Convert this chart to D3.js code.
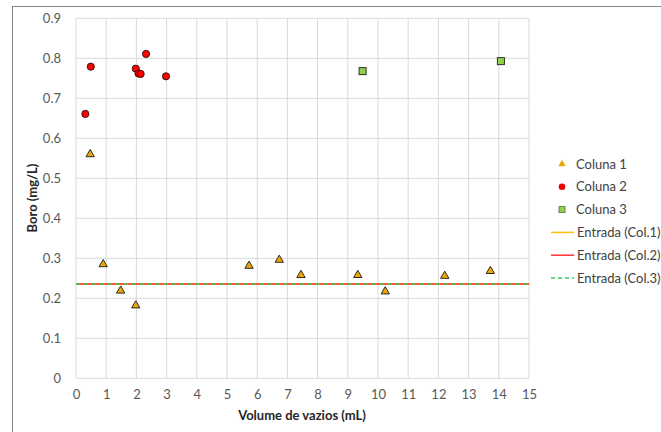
<!DOCTYPE html>
<html><head><meta charset="utf-8">
<script src="https://cdn.jsdelivr.net/npm/d3@7"></script>
<style>body{margin:0;background:#fff;} text{font-family:Lato,"Open Sans",sans-serif;}</style>
</head><body>
<svg id="c" width="661" height="432"></svg>
<script>
const xTicks = [0,1,2,3,4,5,6,7,8,9,10,11,12,13,14,15];
const yTicks = [0,0.1,0.2,0.3,0.4,0.5,0.6,0.7,0.8,0.9];
const col1X = [0.47,0.90,1.48,1.98,5.73,6.73,7.45,9.33,10.24,12.21,13.72];
const col1Y = [0.560,0.285,0.219,0.182,0.281,0.296,0.258,0.258,0.217,0.256,0.268];
const col2X = [0.31,0.49,1.98,2.07,2.14,2.32,2.98];
const col2Y = [0.661,0.779,0.774,0.762,0.761,0.811,0.755];
const col3X = [9.49,14.07];
const col3Y = [0.768,0.793];
const entradaX = [0,15];
const entrada1 = [0.236,0.236];
const entrada2 = [0.236,0.236];
const entrada3 = [0.236,0.236];
const legendLabels = ["Coluna 1","Coluna 2","Coluna 3","Entrada (Col.1)","Entrada (Col.2)","Entrada (Col.3)"];

const svg = d3.select("#c");
svg.append("rect").attr("x",12.5).attr("y",6.5).attr("width",700).attr("height",500)
  .attr("fill","#fff").attr("stroke","#868686");

const x = d3.scaleLinear().domain([0,15]).range([76,529]);
const y = d3.scaleLinear().domain([0,0.9]).range([378.3,18.3]);

const g = svg.append("g");
g.selectAll(".vg").data(xTicks).join("line").attr("x1",d=>x(d)).attr("x2",d=>x(d))
  .attr("y1",y(0)).attr("y2",y(0.9)).attr("stroke","#d9d9d9").attr("stroke-width",1);
g.selectAll(".hg").data(yTicks).join("line").attr("x1",x(0)).attr("x2",x(15))
  .attr("y1",d=>y(d)).attr("y2",d=>y(d)).attr("stroke","#d9d9d9").attr("stroke-width",1);

const xAxis = d3.axisBottom(x).tickValues(xTicks).tickSize(0).tickPadding(11).tickFormat(d3.format("d"));
const gx = svg.append("g").attr("transform",`translate(0,${y(0)})`).call(xAxis);
gx.select(".domain").remove();
gx.selectAll("text").attr("fill","#595959").attr("font-size",13).attr("font-family","Lato");
const yAxis = d3.axisLeft(y).tickValues(yTicks).tickSize(0).tickPadding(15).tickFormat(d=>d===0?"0":d3.format(".1f")(d));
const gy = svg.append("g").attr("transform",`translate(${x(0)},0)`).call(yAxis);
gy.select(".domain").remove();
gy.selectAll("text").attr("fill","#595959").attr("font-size",13).attr("font-family","Lato");

const line = d3.line().x(d=>x(d[0])).y(d=>y(d[1]));
svg.append("path").attr("d",line(entradaX.map((v,i)=>[v,entrada1[i]]))).attr("stroke","#ffc000").attr("stroke-width",1.5).attr("fill","none");
svg.append("path").attr("d",line(entradaX.map((v,i)=>[v,entrada2[i]]))).attr("stroke","#ff3333").attr("stroke-width",1.5).attr("fill","none");
svg.append("path").attr("d",line(entradaX.map((v,i)=>[v,entrada3[i]]))).attr("stroke","#33cc66").attr("stroke-width",1.5).attr("stroke-dasharray","4,4").attr("fill","none");

const tri = d3.symbol().type(d3.symbolTriangle).size(30);
svg.selectAll(".c1").data(col1X).join("path").attr("d",tri)
  .attr("transform",(d,i)=>`translate(${x(d)},${y(col1Y[i])})`)
  .attr("fill","#f0a800").attr("stroke","#2a2a2a").attr("stroke-width",1);
svg.selectAll(".c2").data(col2X).join("circle").attr("cx",d=>x(d)).attr("cy",(d,i)=>y(col2Y[i])).attr("r",3.6)
  .attr("fill","#ff0000").attr("stroke","#2a1010").attr("stroke-width",0.9);
svg.selectAll(".c3").data(col3X).join("rect").attr("x",d=>x(d)-3.5).attr("y",(d,i)=>y(col3Y[i])-3.5)
  .attr("width",7).attr("height",7).attr("fill","#92d050").attr("stroke","#2a3320").attr("stroke-width",1);

svg.append("text").attr("x",302).attr("y",420).attr("text-anchor","middle").attr("font-weight","bold")
  .attr("font-size",13).attr("fill","#262626").text("Volume de vazios (mL)");
svg.append("text").attr("transform","translate(37,198) rotate(-90)").attr("text-anchor","middle").attr("font-weight","bold")
  .attr("font-size",13).attr("fill","#262626").text("Boro (mg/L)");

const ly0 = 164, ldy = 22.8;
const leg = svg.append("g");
leg.append("path").attr("d",d3.symbol().type(d3.symbolTriangle).size(24)).attr("transform",`translate(562,${ly0})`).attr("fill","#e6a700");
leg.append("circle").attr("cx",562).attr("cy",ly0+ldy).attr("r",3.3).attr("fill","#ee0000");
leg.append("rect").attr("x",559).attr("y",ly0+2*ldy-3).attr("width",6).attr("height",6).attr("fill","#92d050").attr("stroke","#556b3a").attr("stroke-width",0.8);
leg.append("line").attr("x1",551).attr("x2",574).attr("y1",ly0+3*ldy).attr("y2",ly0+3*ldy).attr("stroke","#ffc000").attr("stroke-width",1.5);
leg.append("line").attr("x1",551).attr("x2",574).attr("y1",ly0+4*ldy).attr("y2",ly0+4*ldy).attr("stroke","#ff3333").attr("stroke-width",1.5);
leg.append("line").attr("x1",551).attr("x2",574).attr("y1",ly0+5*ldy).attr("y2",ly0+5*ldy).attr("stroke","#33cc66").attr("stroke-width",1.5).attr("stroke-dasharray","4,3");
leg.selectAll(".lt").data(legendLabels).join("text")
  .attr("x",(d,i)=>i<3?576:577).attr("y",(d,i)=>ly0+i*ldy).attr("dy","0.35em")
  .attr("font-size",13).attr("fill","#404040").text(d=>d);
</script>
</body></html>
